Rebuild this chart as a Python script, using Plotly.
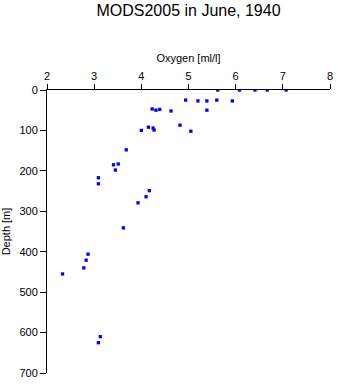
import plotly.graph_objects as go

# Oxygen profile samples, MODS2005, June 1940
oxygen = [5.62, 6.08, 6.41, 6.67, 7.07,
          4.94, 5.20, 5.39, 5.60, 5.93,
          4.23, 4.31, 4.39, 4.63, 5.39,
          4.82, 4.00, 4.15, 4.25, 4.27, 5.05,
          3.68, 3.41, 3.51, 3.45, 3.09, 3.09,
          4.17, 4.10, 3.93, 3.62,
          2.87, 2.83, 2.78, 2.33, 3.13, 3.09]
depth = [0, 0, 0, 0, 0,
         25, 27, 27, 25, 27,
         47, 50, 48, 52, 50,
         87, 100, 92, 94, 99, 102,
         148, 185, 183, 198, 217, 232,
         249, 264, 279, 341,
         406, 421, 440, 455, 610, 625]

x_ticks = [2, 3, 4, 5, 6, 7, 8]
y_ticks = [0, 100, 200, 300, 400, 500, 600, 700]

font = "Liberation Sans, Arial, sans-serif"

fig = go.Figure(go.Scatter(
    x=oxygen, y=depth, mode="markers",
    marker=dict(symbol="square", size=3.3, color="#0000ff", line=dict(width=0)),
    hoverinfo="x+y",
))

fig.update_layout(
    width=338, height=384,
    margin=dict(l=47, r=5, t=90, b=9),
    paper_bgcolor="white", plot_bgcolor="white",
    showlegend=False,
    font=dict(family=font, size=11, color="black"),
    title=dict(text="MODS2005 in June, 1940", font=dict(size=16, family=font),
               x=0.5, xref="paper", xanchor="center",
               y=1 - 10 / 384, yref="container", yanchor="middle"),
    xaxis=dict(
        side="top", range=[2, 8], tickvals=x_ticks,
        showline=True, linecolor="black", linewidth=1,
        ticks="outside", ticklen=5, tickcolor="black",
        showgrid=False, zeroline=False,
        title=dict(text="Oxygen [ml/l]", standoff=4, font=dict(size=11)),
    ),
    yaxis=dict(
        range=[700, 0], tickvals=y_ticks,
        showline=True, linecolor="black", linewidth=1,
        ticks="outside", ticklen=6, tickcolor="black",
        showgrid=False, zeroline=False,
        title=dict(text="Depth [m]", standoff=7, font=dict(size=11)),
    ),
)

fig.write_html("out.html")
